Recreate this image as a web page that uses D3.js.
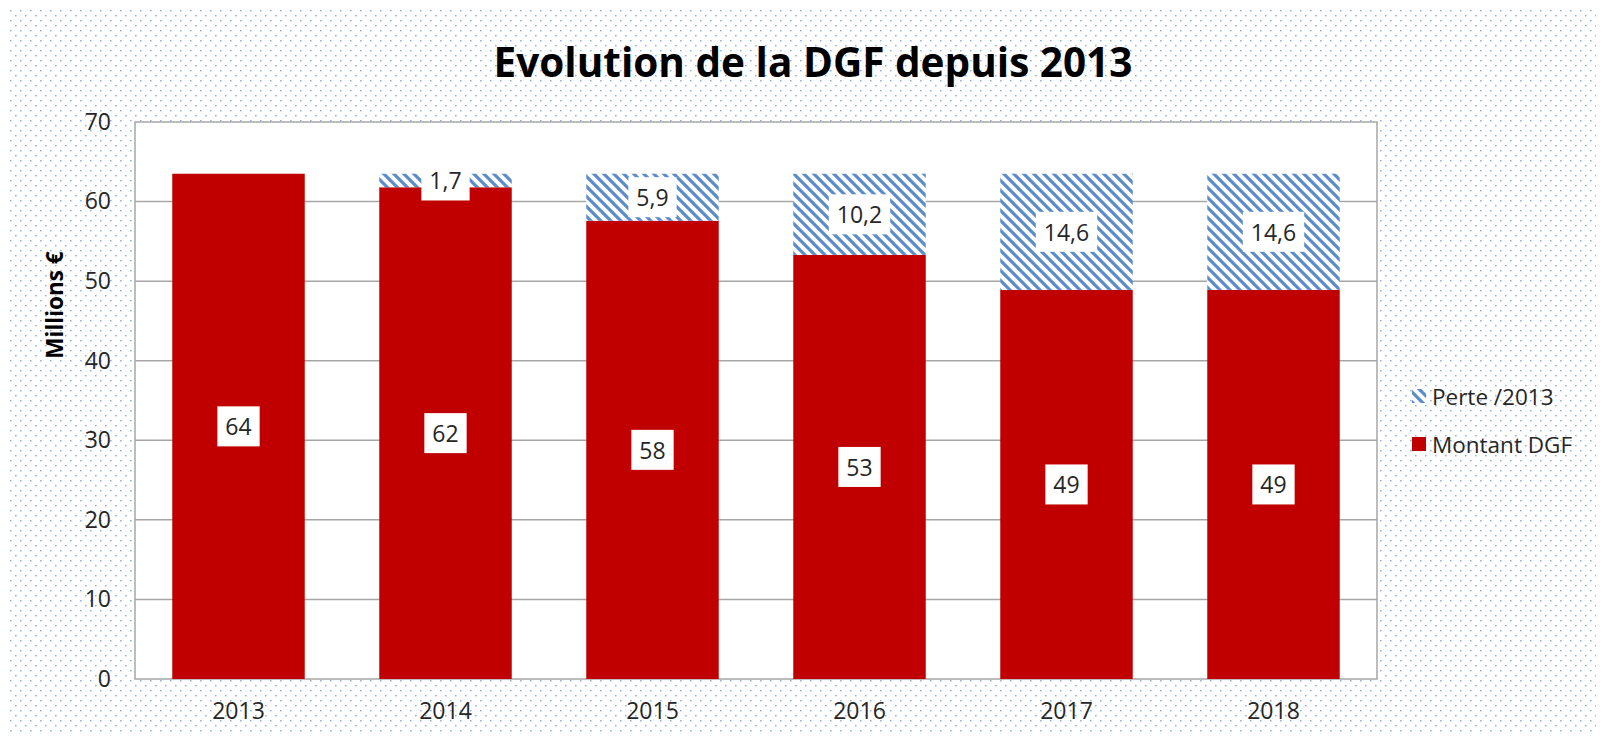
<!DOCTYPE html>
<html>
<head>
<meta charset="utf-8">
<script src="https://cdn.jsdelivr.net/npm/d3@7"></script>
<style>
  body { margin: 0; background: #fff; }
  svg { display: block; font-family: "Open Sans", sans-serif; }
</style>
</head>
<body>
<svg width="1604" height="741"></svg>
<script>
// Données du graphique
const annees = ["2013", "2014", "2015", "2016", "2017", "2018"];
const montantDGF = [63.5, 61.8, 57.6, 53.3, 48.9, 48.9];
const perte2013 = [0, 1.7, 5.9, 10.2, 14.6, 14.6];
const ticksY = [0, 10, 20, 30, 40, 50, 60, 70];
const titre = "Evolution de la DGF depuis 2013";
const titreAxeY = "Millions €";
const legende = ["Perte /2013", "Montant DGF"];

const svg = d3.select("svg");
const width = +svg.attr("width");
const height = +svg.attr("height");

const rouge = "#c00000";

// Format français (virgule décimale)
const fr = d3.formatLocale({decimal: ",", thousands: " ", grouping: [3], currency: ["", " €"]});
const fmt1 = fr.format(".1f");
const fmt0 = fr.format(".0f");

const defs = svg.append("defs");

// Fond pointillé
const dots = defs.append("pattern")
    .attr("id", "dots")
    .attr("patternUnits", "userSpaceOnUse")
    .attr("width", 10).attr("height", 10);
dots.append("rect").attr("x", 0).attr("y", 0).attr("width", 1.6).attr("height", 1.4).attr("fill", "#8fb0de");
dots.append("rect").attr("x", 5).attr("y", 5).attr("width", 1.6).attr("height", 1.4).attr("fill", "#8fb0de");

// Hachures "\" pour la perte
const hatch = defs.append("pattern")
    .attr("id", "hatch")
    .attr("patternUnits", "userSpaceOnUse")
    .attr("width", 10).attr("height", 10);
hatch.append("rect").attr("width", 10).attr("height", 10).attr("fill", "#fff");
hatch.append("path")
    .attr("d", "M0,0 L10,10 M-3,7 L3,13 M7,-3 L13,3")
    .attr("stroke", "#5a8ccc")
    .attr("stroke-width", 3.2);

svg.append("rect")
    .attr("x", 8).attr("y", 8)
    .attr("width", width - 16).attr("height", height - 16)
    .attr("fill", "url(#dots)");

// Zone de tracé
const plot = {left: 135, right: 1377, top: 122, bottom: 679};

svg.append("rect")
    .attr("x", plot.left).attr("y", plot.top)
    .attr("width", plot.right - plot.left).attr("height", plot.bottom - plot.top)
    .attr("fill", "#fff")
    .attr("stroke", "#a6a6a6")
    .attr("stroke-width", 1.5);

const x = d3.scaleBand()
    .domain(annees)
    .range([plot.left, plot.right])
    .paddingInner(0.36)
    .paddingOuter(0.18);

const y = d3.scaleLinear()
    .domain([0, 70])
    .range([plot.bottom, plot.top]);

// Grille horizontale
svg.append("g")
    .selectAll("line")
    .data(ticksY.slice(1, -1))
    .join("line")
    .attr("x1", plot.left).attr("x2", plot.right)
    .attr("y1", d => y(d)).attr("y2", d => y(d))
    .attr("stroke", "#a6a6a6")
    .attr("stroke-width", 1.5);

// Axe Y
const axeY = svg.append("g")
    .attr("transform", `translate(${plot.left},0)`)
    .call(d3.axisLeft(y).tickValues(ticksY).tickSize(0).tickPadding(24));
axeY.select(".domain").remove();
axeY.selectAll("text")
    .attr("font-size", 23)
    .attr("font-family", "Open Sans")
    .attr("fill", "#262626");

// Axe X
const axeX = svg.append("g")
    .attr("transform", `translate(0,${plot.bottom})`)
    .call(d3.axisBottom(x).tickSize(0).tickPadding(24));
axeX.select(".domain").remove();
axeX.selectAll("text")
    .attr("font-size", 23)
    .attr("font-family", "Open Sans")
    .attr("fill", "#262626");

const donnees = annees.map((a, i) => ({annee: a, montant: montantDGF[i], perte: perte2013[i]}));

// Barres rouges
svg.append("g")
    .selectAll("rect")
    .data(donnees)
    .join("rect")
    .attr("x", d => x(d.annee))
    .attr("width", x.bandwidth())
    .attr("y", d => y(d.montant))
    .attr("height", d => y(0) - y(d.montant))
    .attr("fill", rouge);

// Barres hachurées (perte)
svg.append("g")
    .selectAll("rect")
    .data(donnees.filter(d => d.perte > 0))
    .join("rect")
    .attr("x", d => x(d.annee))
    .attr("width", x.bandwidth())
    .attr("y", d => y(d.montant + d.perte))
    .attr("height", d => y(d.montant) - y(d.montant + d.perte))
    .attr("fill", "url(#hatch)");

// Étiquettes de données
function etiquette(g, cx, cy, texte) {
    const t = g.append("text")
        .attr("x", cx).attr("y", cy)
        .attr("text-anchor", "middle")
        .attr("dominant-baseline", "central")
        .attr("font-size", 23)
        .attr("fill", "#262626")
        .text(texte);
    const w = t.node().getComputedTextLength() + 16;
    g.insert("rect", "text")
        .attr("x", cx - w / 2).attr("y", cy - 20)
        .attr("width", w).attr("height", 40)
        .attr("fill", "#fff");
}

const etiquettes = svg.append("g");
donnees.forEach(d => {
    const cx = x(d.annee) + x.bandwidth() / 2;
    const g1 = etiquettes.append("g");
    etiquette(g1, cx, (y(0) + y(d.montant)) / 2, fmt0(d.montant));
    if (d.perte > 0) {
        const g2 = etiquettes.append("g");
        etiquette(g2, cx, (y(d.montant) + y(d.montant + d.perte)) / 2, fmt1(d.perte));
    }
});

// Titre
svg.append("text")
    .attr("x", 813).attr("y", 77)
    .attr("text-anchor", "middle")
    .attr("font-size", 40.5)
    .attr("font-weight", "bold")
    .attr("fill", "#000")
    .text(titre);

// Titre de l'axe Y
svg.append("text")
    .attr("transform", "translate(63,305) rotate(-90)")
    .attr("text-anchor", "middle")
    .attr("font-size", 22.5)
    .attr("font-weight", "bold")
    .attr("fill", "#000")
    .text(titreAxeY);

// Légende
const leg = svg.append("g");
const legFill = ["url(#hatch)", rouge];
legende.forEach((l, i) => {
    const ly = 396 + i * 48;
    leg.append("rect")
        .attr("x", 1412).attr("y", ly - 7)
        .attr("width", 14).attr("height", 14)
        .attr("fill", legFill[i]);
    leg.append("text")
        .attr("x", 1432).attr("y", ly)
        .attr("dominant-baseline", "central")
        .attr("font-size", 22.5)
        .attr("fill", "#262626")
        .text(l);
});
</script>
</body>
</html>
